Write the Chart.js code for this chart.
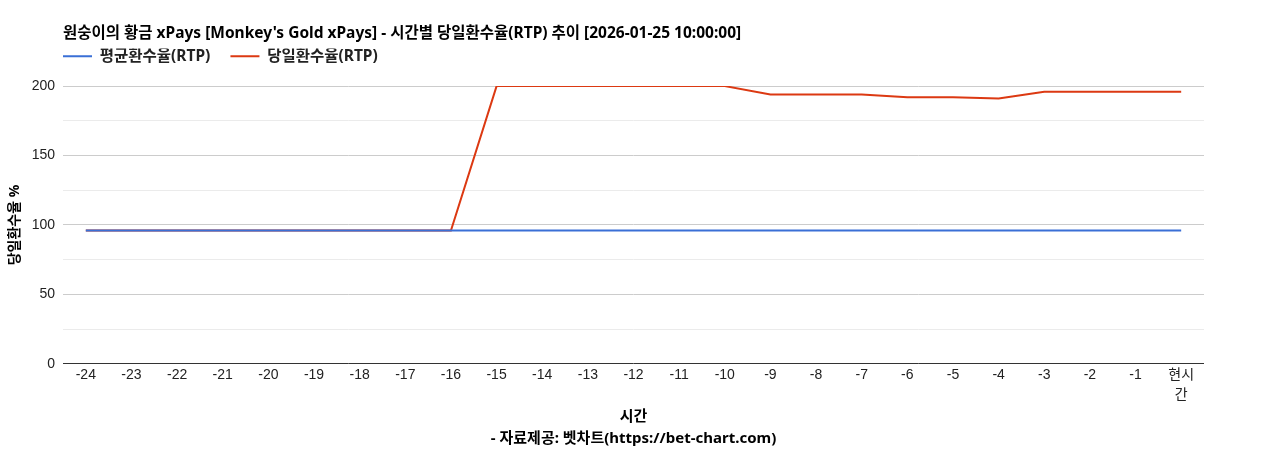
<!DOCTYPE html>
<html>
<head>
<meta charset="utf-8">
<script src="https://cdn.jsdelivr.net/npm/chart.js@4"></script>
<style>
  body { margin: 0; background: #fff; }
  #wrap { width: 1268px; height: 450px; }
</style>
</head>
<body>
<div id="wrap"><canvas id="rtpChart"></canvas></div>
<script>
// 시간대 (현시간 포함)
var hours = ["-24", "-23", "-22", "-21", "-20", "-19", "-18", "-17", "-16", "-15", "-14", "-13",
  "-12", "-11", "-10", "-9", "-8", "-7", "-6", "-5", "-4", "-3", "-2", "-1", ["현시", "간"]];

// 평균환수율
var avgRtp = [96, 96, 96, 96, 96, 96, 96, 96, 96, 96, 96, 96,
  96, 96, 96, 96, 96, 96, 96, 96, 96, 96, 96, 96, 96];

// 당일환수율
var dailyRtp = [96, 96, 96, 96, 96, 96, 96, 96, 96, 200, 200, 200,
  200, 200, 200, 194, 194, 194, 192, 192, 191, 196, 196, 196, 196];

var yTicks = [0, 50, 100, 150, 200];

var fontTick = "Arial, 'Liberation Sans', 'Noto Sans CJK KR', sans-serif";
var fontBold = "'Noto Sans', 'Noto Sans CJK KR', sans-serif";

var ctx = document.getElementById("rtpChart").getContext("2d");
var chart = new Chart(ctx, {
  type: "line",
  data: {
    labels: hours,
    datasets: [
      {
        label: "평균환수율(RTP)",
        data: avgRtp,
        borderColor: "#3a6fd6",
        backgroundColor: "#3a6fd6",
        borderWidth: 2,
        pointRadius: 0,
        tension: 0,
      },
      {
        label: "당일환수율(RTP)",
        data: dailyRtp,
        borderColor: "#dc3912",
        backgroundColor: "#dc3912",
        borderWidth: 2,
        pointRadius: 0,
        tension: 0,
      },
    ],
  },
  options: {
    responsive: true,
    maintainAspectRatio: false,
    animation: false,
    layout: { padding: { top: 24, left: 0, right: 64, bottom: 0 } },
    plugins: {
      tooltip: { enabled: false },
      title: {
        display: true,
        fullSize: false,
        align: "start",
        text: "원숭이의 황금 xPays [Monkey's Gold xPays] - 시간별 당일환수율(RTP) 추이 [2026-01-25 10:00:00]",
        color: "#000",
        font: { family: fontBold, size: 15.5, weight: "bold", lineHeight: 1.2 },
        padding: { top: 0, bottom: 6 },
      },
      // 범례 아래 여백용
      subtitle: {
        display: true,
        weight: 500,
        fullSize: false,
        text: "",
        font: { size: 10, lineHeight: 1 },
        padding: { top: 0, bottom: 2 },
      },
      legend: {
        display: true,
        fullSize: false,
        align: "start",
        labels: {
          color: "#222",
          usePointStyle: true,
          pointStyle: "line",
          pointStyleWidth: 29,
          padding: 0,
          font: { family: fontBold, size: 15.5, weight: "bold", lineHeight: 1.2 },
          generateLabels: function (chart) {
            var items = Chart.defaults.plugins.legend.labels.generateLabels(chart);
            items.forEach(function (it) { it.text = it.text + "     "; });
            return items;
          },
        },
      },
    },
    scales: {
      x: {
        offset: true,
        grid: { display: false, drawTicks: false },
        border: { display: false },
        ticks: {
          color: "#222",
          maxRotation: 0,
          autoSkip: false,
          padding: 2,
          font: { family: fontTick, size: 14, lineHeight: 1.4 },
        },
        title: {
          display: true,
          text: ["시간", "- 자료제공: 벳차트(https://bet-chart.com)"],
          color: "#000",
          font: { family: fontBold, size: 15, weight: "bold", lineHeight: 1.5 },
          padding: { top: -2, bottom: 0 },
        },
      },
      y: {
        min: 0,
        max: 200,
        afterFit: function (scale) { scale.width = 63; },
        border: { display: false },
        grid: {
          drawTicks: false,
          lineWidth: 1,
          color: function (c) {
            if (c.tick.value === 0) return "#333";
            return c.tick.value % 50 === 0 ? "#cccccc" : "#ebebeb";
          },
        },
        ticks: {
          stepSize: 25,
          color: "#222",
          padding: 8,
          font: { family: fontTick, size: 14 },
          callback: function (v) { return yTicks.indexOf(v) >= 0 ? v : ""; },
        },
        title: {
          display: true,
          text: "당일환수율 %",
          color: "#000",
          font: { family: fontBold, size: 14, weight: "bold" },
          padding: { top: 7, bottom: 0 },
        },
      },
    },
  },
});
</script>
</body>
</html>
